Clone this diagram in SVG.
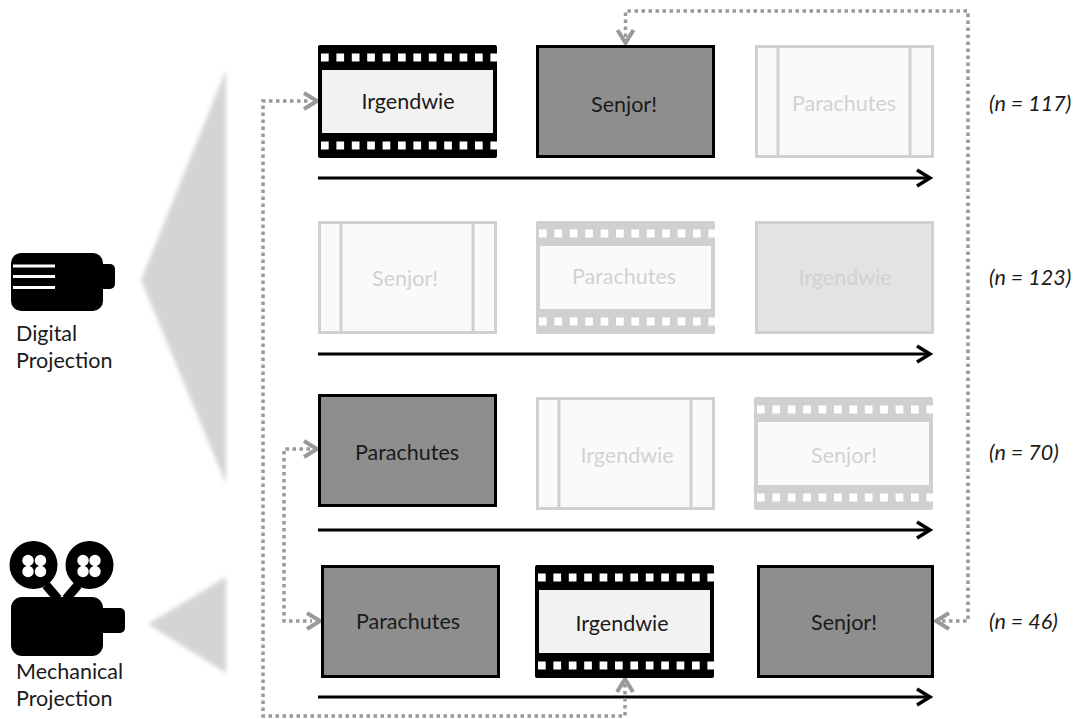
<svg xmlns="http://www.w3.org/2000/svg" width="1078" height="719" viewBox="0 0 1078 719">
<style>
text{font-family:"Lato","Open Sans","Liberation Sans",sans-serif;font-size:21.500px;fill:#1a1a1a}
.c{text-anchor:middle}
.n{font-style:italic;font-size:21.500px}
.lt{fill:#d2d2d2}
.solid{fill:#8e8e8e;stroke:#000;stroke-width:3}
.solidL{fill:#e3e3e3;stroke:#d0d0d0;stroke-width:3}
.stripb{fill:#fafafa;stroke:#d0d0d0;stroke-width:3}
.stripl{stroke:#d0d0d0;stroke-width:3;fill:none}
.flow{stroke:#000;stroke-width:3;fill:none}
.dot{stroke:#999;stroke-width:3.500;fill:none;stroke-dasharray:3.500 3.500}
.head{stroke:#999;stroke-width:4;fill:none}
.headk{stroke:#000;stroke-width:3.500;fill:none}
.wl{stroke:#fff;stroke-width:3}
</style>
<defs>
<filter id="bl" x="-10%" y="-10%" width="120%" height="120%"><feGaussianBlur stdDeviation="2"/></filter>
<g id="film">
<rect x="0" y="0" width="179" height="113" rx="2" fill="currentColor"/>
<path d="M3 12.500H179M3 100.500H179" stroke="#fff" stroke-width="8" stroke-dasharray="7.700 7.700" fill="none"/>
<rect x="4" y="25" width="171" height="63"/>
</g>
<g id="strip">
<rect x="1.500" y="1.500" width="176" height="110" class="stripb"/>
<path d="M23 1.500V111.500M155 1.500V111.500" class="stripl"/>
</g>
<path id="ah" d="M-14 -8L-1 0L-14 8"/>
</defs>

<g id="cones" fill="#d4d4d4" filter="url(#bl)">
<polygon points="226,70 141,280 226,484"/>
<polygon points="226,577 148,624 226,673"/>
</g>

<g id="digital-projection">
<rect x="11" y="253" width="92" height="58" rx="10" fill="#000"/>
<rect x="98" y="264" width="17" height="25" rx="5" fill="#000"/>
<path d="M13 266H55M13 276.500H55M13 287.500H55" class="wl"/>
<text x="16" y="341">Digital</text>
<text x="16" y="368">Projection</text>
</g>
<g id="mechanical-projection">
<circle cx="33.500" cy="565" r="24" fill="#000"/>
<circle cx="89.500" cy="565" r="24" fill="#000"/>
<g fill="#fff"><circle cx="28" cy="560.500" r="5.700"/><circle cx="40.500" cy="560.500" r="5.700"/><circle cx="28" cy="571.500" r="5.700"/><circle cx="40.500" cy="571.500" r="5.700"/><circle cx="83" cy="560.500" r="5.700"/><circle cx="95" cy="560.500" r="5.700"/><circle cx="83" cy="571.500" r="5.700"/><circle cx="95" cy="571.500" r="5.700"/></g>
<path d="M46 585L58 599M78 585L66 599" stroke="#000" stroke-width="9" fill="none"/>
<rect x="11" y="597" width="92" height="59" rx="11" fill="#000"/>
<rect x="98" y="608" width="27" height="25" rx="5" fill="#000"/>
<text x="16" y="679">Mechanical</text>
<text x="16" y="706">Projection</text>
</g>

<g id="connectors">
<path class="flow" d="M318 178H929"/><use href="#ah" x="931" y="178" class="headk"/>
<path class="flow" d="M318 354H929"/><use href="#ah" x="931" y="354" class="headk"/>
<path class="flow" d="M318 530H929"/><use href="#ah" x="931" y="530" class="headk"/>
<path class="flow" d="M318 697H929"/><use href="#ah" x="931" y="697" class="headk"/>
<path class="dot" d="M625 684V716H263V101H310"/>
<use href="#ah" x="318" y="101" class="head"/>
<use href="#ah" transform="translate(625 678) rotate(-90)" class="head"/>
<path class="dot" d="M310 449H284V621H312"/>
<use href="#ah" x="318" y="449" class="head"/>
<use href="#ah" x="321" y="621" class="head"/>
<path class="dot" d="M625.500 37V11H968V621H941"/>
<use href="#ah" transform="translate(625.500 44) rotate(90)" class="head"/>
<use href="#ah" transform="translate(935 621) rotate(180)" class="head"/>
</g>

<g id="r1-irgendwie"><use href="#film" x="318" y="45" color="#000" fill="#f2f2f2"/><text class="c" x="408" y="109">Irgendwie</text></g>
<g id="r1-senjor"><rect x="537.500" y="46.500" width="176" height="110" class="solid"/><text class="c" x="624" y="112">Senjor!</text></g>
<g id="r1-parachutes"><use href="#strip" x="755" y="45"/><text class="c lt" x="844" y="111">Parachutes</text></g>
<text class="n" x="989" y="111">(n = 117)</text>

<g id="r2-senjor"><use href="#strip" x="318" y="221"/><text class="c lt" x="405" y="286">Senjor!</text></g>
<g id="r2-parachutes"><use href="#film" x="536" y="221" color="#d0d0d0" fill="#fafafa"/><text class="c lt" x="624" y="284">Parachutes</text></g>
<g id="r2-irgendwie"><rect x="756.500" y="222.500" width="176" height="110" class="solidL"/><text class="c lt" x="845" y="285">Irgendwie</text></g>
<text class="n" x="989" y="285">(n = 123)</text>

<g id="r3-parachutes"><rect x="319.500" y="395.500" width="176" height="110" class="solid"/><text class="c" x="407" y="460">Parachutes</text></g>
<g id="r3-irgendwie"><use href="#strip" x="536" y="397"/><text class="c lt" x="627" y="463">Irgendwie</text></g>
<g id="r3-senjor"><use href="#film" x="754" y="397" color="#d0d0d0" fill="#fafafa"/><text class="c lt" x="844" y="463">Senjor!</text></g>
<text class="n" x="989" y="460">(n = 70)</text>

<g id="r4-parachutes"><rect x="322.500" y="566.500" width="176" height="110" class="solid"/><text class="c" x="408" y="629">Parachutes</text></g>
<g id="r4-irgendwie"><use href="#film" x="535" y="565" color="#000" fill="#f2f2f2"/><text class="c" x="622" y="631">Irgendwie</text></g>
<g id="r4-senjor"><rect x="758.500" y="566.500" width="174" height="110" class="solid"/><text class="c" x="844" y="630">Senjor!</text></g>
<text class="n" x="989" y="629">(n = 46)</text>
</svg>
